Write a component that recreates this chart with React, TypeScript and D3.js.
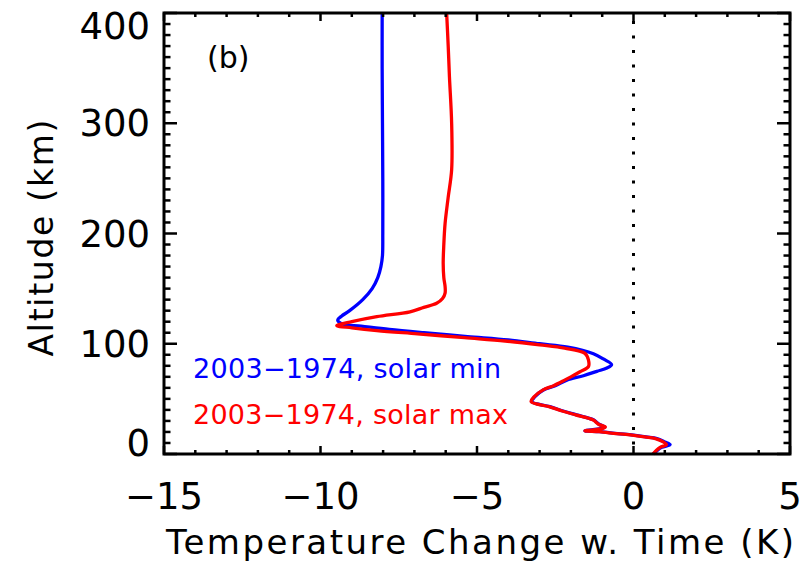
import React from "react";
import * as d3 from "d3";

// Altitude (km) and temperature change (K) for the solar-minimum run
const minAltitude = [400, 350, 300, 250, 200, 180, 170, 160, 150, 140, 130, 125, 121.5, 118, 116, 113, 110, 106.5, 103.5, 100, 97, 91, 86, 81, 78, 75, 71, 67, 62, 58, 52, 47.5, 43, 39, 35.5, 31, 27, 24.5, 23, 21, 20.2, 18.5, 17.2, 15.5, 14, 11, 8.5, 6, 3, 0];
const minChange = [-8.03, -8.03, -8.02, -8.01, -8.01, -8.02, -8.07, -8.17, -8.35, -8.65, -9.07, -9.33, -9.45, -9.3, -8.7, -7.8, -6.7, -5.3, -4.0, -3.0, -2.1, -1.28, -0.95, -0.7, -0.85, -1.17, -1.6, -2.13, -2.5, -2.88, -3.15, -3.25, -2.67, -2.25, -1.82, -1.28, -1.1, -0.92, -1.05, -1.55, -1.07, -0.5, 0.0, 0.4, 0.75, 1.0, 1.17, 0.9, 0.75, 0.64];

// Altitude (km) and temperature change (K) for the solar-maximum run
const maxAltitude = [400, 370, 342, 300, 258, 233, 209, 190, 173, 160, 152, 146, 141, 136.7, 133, 129, 124.5, 120, 116.4, 114.5, 112, 109, 105.5, 102.5, 99, 96, 91.3, 85.3, 79.2, 74.6, 70, 67, 62, 58, 52, 47.5, 43, 39, 35.5, 31, 27, 24.5, 23, 21, 20.2, 18.5, 17.2, 15.5, 14, 11, 8.5, 6, 3, 0];
const maxChange = [-5.97, -5.92, -5.88, -5.81, -5.81, -5.92, -6.02, -6.06, -6.08, -6.06, -6.02, -6.02, -6.1, -6.29, -6.7, -7.14, -8.2, -9.0, -9.48, -9.0, -8.2, -6.9, -5.4, -4.1, -3.0, -2.2, -1.55, -1.44, -1.44, -1.71, -2.0, -2.2, -2.55, -2.9, -3.17, -3.27, -2.7, -2.28, -1.85, -1.3, -1.12, -0.9, -1.0, -1.55, -1.1, -0.55, -0.05, 0.35, 0.7, 0.95, 1.05, 0.85, 0.72, 0.62];

const xTicks = [-15, -10, -5, 0, 5];
const yTicks = [0, 100, 200, 300, 400];
const seriesLabels = ["2003\u22121974, solar min", "2003\u22121974, solar max"];
const seriesColors = ["#0000ff", "#ff0000"];

const W = 803;
const H = 566;
const left = 164;
const right = 790;
const top = 13;
const bottom = 454;
const font = "'DejaVu Sans', sans-serif";

export default function App() {
  const x = d3.scaleLinear().domain([-15, 5]).range([left, right]);
  const y = d3.scaleLinear().domain([0, 400]).range([bottom, top]);

  const line = d3
    .line<[number, number]>()
    .x((d) => x(d[1]))
    .y((d) => y(d[0]))
    .curve(d3.curveCatmullRom.alpha(0.5));

  const minPts = minAltitude.map((a, i) => [a, minChange[i]] as [number, number]);
  const maxPts = maxAltitude.map((a, i) => [a, maxChange[i]] as [number, number]);

  const xMinor = d3.range(-15, 5.01, 1);
  const yMinor = d3.range(0, 400.01, 10);

  return (
    <svg
      width={W}
      height={H}
      style={{ position: "absolute", left: 0, top: 0, background: "#fff" }}
      fontFamily={font}
    >
      <rect x={0} y={0} width={W} height={H} fill="#fff" />

      {/* zero reference line */}
      <line
        x1={x(0)}
        x2={x(0)}
        y1={y(400)}
        y2={y(0)}
        stroke="#000"
        strokeWidth={3}
        strokeDasharray="3 11.5"
        strokeDashoffset={-8}
      />

      {/* profiles */}
      <path d={line(minPts) || ""} fill="none" stroke={seriesColors[0]} strokeWidth={3.3} strokeLinejoin="round" />
      <path d={line(maxPts) || ""} fill="none" stroke={seriesColors[1]} strokeWidth={3.3} strokeLinejoin="round" />

      {/* tick marks on all four sides */}
      {xMinor.map((v) => {
        const major = v % 5 === 0;
        const len = major ? 8 : 4;
        return (
          <g key={"xt" + v} stroke="#000" strokeWidth={2.5}>
            <line x1={x(v)} x2={x(v)} y1={bottom} y2={bottom - len} />
            <line x1={x(v)} x2={x(v)} y1={top} y2={top + len} />
          </g>
        );
      })}
      {yMinor.map((v) => {
        const major = v % 100 === 0;
        const len = major ? 13 : 6.5;
        return (
          <g key={"yt" + v} stroke="#000" strokeWidth={2.5}>
            <line x1={left} x2={left + len} y1={y(v)} y2={y(v)} />
            <line x1={right} x2={right - len} y1={y(v)} y2={y(v)} />
          </g>
        );
      })}

      {/* frame */}
      <rect x={left} y={top} width={right - left} height={bottom - top} fill="none" stroke="#000" strokeWidth={3} />

      {/* tick labels */}
      {xTicks.map((v) => (
        <text key={"xl" + v} x={x(v)} y={509} fontSize={37} textAnchor="middle" fill="#000">
          {v < 0 ? "\u2212" + Math.abs(v) : String(v)}
        </text>
      ))}
      {yTicks.map((v) => {
        const cy = Math.min(Math.max(y(v), top + 13), bottom - 11);
        return (
          <text key={"yl" + v} x={150} y={cy + 13} fontSize={37} textAnchor="end" fill="#000">
            {String(v)}
          </text>
        );
      })}

      {/* axis titles */}
      <text x={480} y={554} fontSize={34} textAnchor="middle" textLength={628} lengthAdjust="spacing" fill="#000">
        Temperature Change w. Time (K)
      </text>
      <text
        transform={`translate(53,238) rotate(-90)`}
        fontSize={33}
        textAnchor="middle"
        textLength={237}
        lengthAdjust="spacing"
        fill="#000"
      >
        Altitude (km)
      </text>

      {/* panel label */}
      <text x={207} y={68} fontSize={30} fill="#000">
        (b)
      </text>

      {/* legend */}
      {seriesLabels.map((s, i) => (
        <text
          key={s}
          x={193}
          y={378 + i * 46}
          fontSize={27}
          fill={seriesColors[i]}
          textLength={i === 0 ? 308 : 315}
          lengthAdjust="spacing"
        >
          {s}
        </text>
      ))}
    </svg>
  );
}
